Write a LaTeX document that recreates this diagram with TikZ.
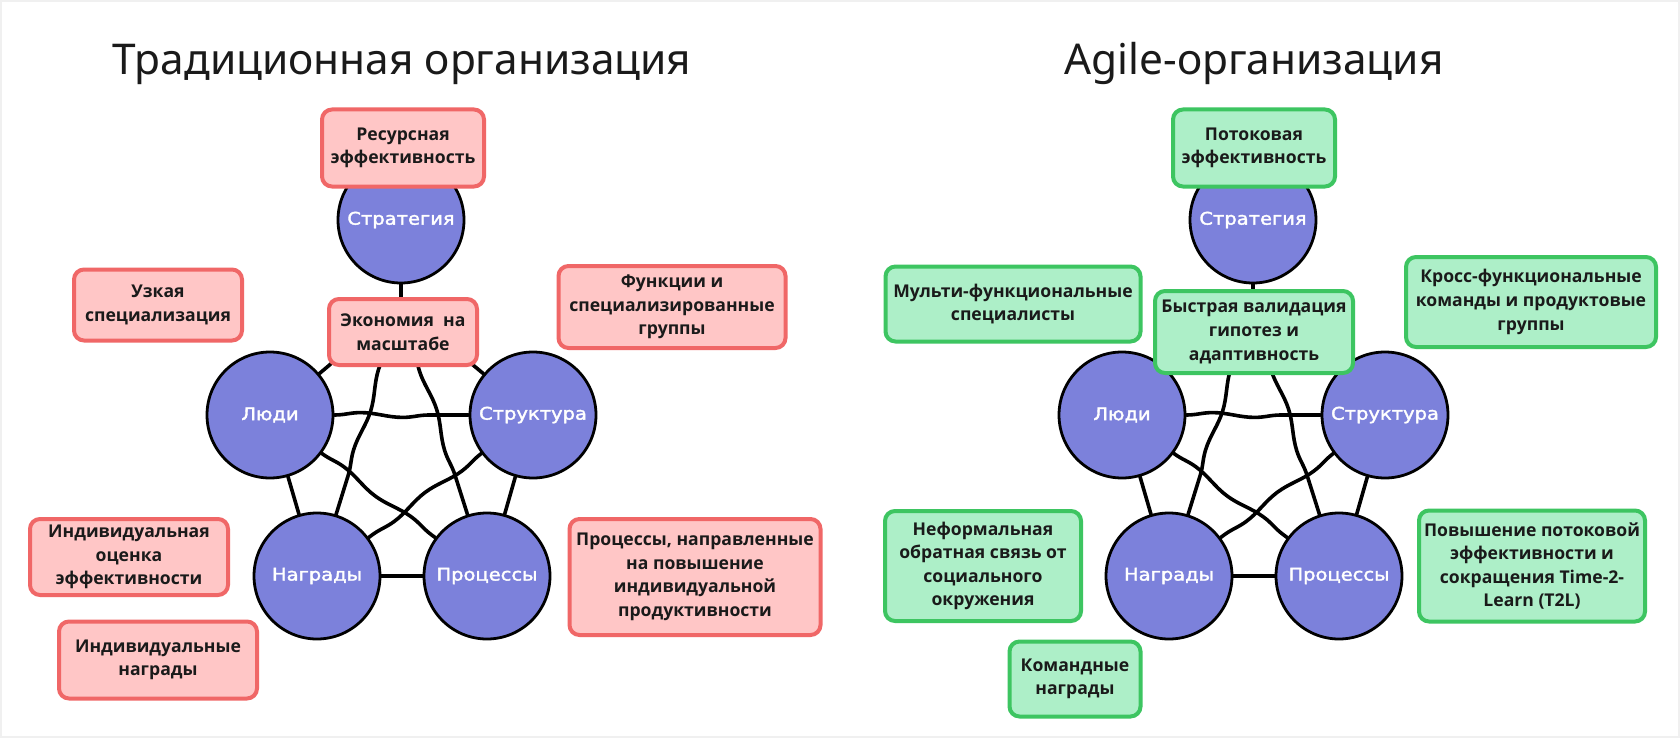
\documentclass[tikz,border=0pt]{standalone}
\usepackage{fontspec}
\setmainfont{Open Sans}
\newfontfamily\titlefont{Noto Sans}
\newfontfamily\circfont[FakeStretch=1.12, FakeBold=2]{DejaVu Sans}
\usetikzlibrary{decorations.pathmorphing}

\definecolor{redline}{HTML}{F06767}
\definecolor{redfill}{HTML}{FFC6C6}
\definecolor{greenline}{HTML}{3DC561}
\definecolor{greenfill}{HTML}{ADEFC8}
\definecolor{circfill}{HTML}{7C81DB}
\definecolor{textdark}{HTML}{1A1A1A}

\tikzset{
  circ/.style={circle, draw=black, line width=1.4pt, fill=circfill, minimum size=63pt,
    inner sep=0pt, text=white, font=\circfont\fontsize{8.7}{10}\selectfont},
  box/.style={rectangle, rounded corners=5pt, line width=2pt, inner sep=0pt, align=center,
    text=textdark, font=\bfseries\fontsize{8.8}{11.8}\selectfont},
  oldbox/.style={box, draw=redline, fill=redfill},
  newbox/.style={box, draw=greenline, fill=greenfill},
  link/.style={line width=1.8pt, line cap=round, decorate,
    decoration={snake, amplitude=1.2pt, segment length=42pt}},
  title/.style={anchor=base, text=textdark, font=\titlefont\fontsize{21.2}{26}\selectfont}
}

\begin{document}
\begin{tikzpicture}[x=0.5pt, y=-0.5pt]
    \useasboundingbox (0,0) rectangle (1680,738);
    \fill[white] (0,0) rectangle (1680,738);
    \draw[gray!12, line width=0.8pt] (1,1) rectangle (1679,737);

    \node[title] (ltitle) at (402,75) {Традиционная организация};
    \node[title] (rtitle) at (1254,75) {Agile-организация};

    % pentagons
    \foreach \s/\dx in {l/0, r/852} {
        \node[circ] (\s strat) at ({401+\dx},220) {Стратегия};
        \node[circ] (\s people) at ({270+\dx},415) {Люди};
        \node[circ] (\s struct) at ({533+\dx},415) {Структура};
        \node[circ] (\s reward) at ({317+\dx},576) {Награды};
        \node[circ] (\s proc) at ({487+\dx},576) {Процессы};
        \coordinate (\s hub) at ({401+\dx},305);
        \draw[line width=1.8pt] (\s strat.south) -- (\s hub);
        \foreach \a in {people, struct, reward, proc}
            \draw[link] (\s hub) -- (\s\a);
        \foreach \a/\b in {people/struct, people/reward, people/proc, struct/reward, struct/proc, reward/proc}
            \draw[link] (\s\a) -- (\s\b);
    }

    % traditional
    \node[oldbox, minimum width=81pt, minimum height=38.5pt] (res) at (403,148) {Ресурсная\\эффективность};
    \node[oldbox, minimum width=74pt, minimum height=33pt] (econ) at (403,332) {Экономия~ на\\масштабе};
    \node[oldbox, minimum width=84pt, minimum height=35.5pt] (narrow) at (158,305) {Узкая\\специализация};
    \node[oldbox, minimum width=113.5pt, minimum height=41pt] (func) at (672,307) {Функции и\\специализированные\\группы};
    \node[oldbox, minimum width=99pt, minimum height=38pt] (indeval) at (129,557) {Индивидуальная\\оценка\\эффективности};
    \node[oldbox, minimum width=99pt, minimum height=38.5pt] (indrew) at (158,660) {Индивидуальные\\награды};
    \node[oldbox, minimum width=125.5pt, minimum height=58pt] (procbox) at (695,577) {Процессы, направленные\\на повышение\\индивидуальной\\продуктивности};

    % agile
    \node[newbox, minimum width=81pt, minimum height=38.5pt] (flow) at (1254,148) {Потоковая\\эффективность};
    \node[newbox, minimum width=99pt, minimum height=41pt] (fast) at (1254,332) {Быстрая валидация\\гипотез и\\адаптивность};
    \node[newbox, minimum width=127.5pt, minimum height=37.5pt] (multi) at (1013,304) {Мульти-функциональные\\специалисты};
    \node[newbox, minimum width=125pt, minimum height=45pt] (cross) at (1531,302) {Кросс-функциональные\\команды и продуктовые\\группы};
    \node[newbox, minimum width=98pt, minimum height=55pt] (informal) at (983,566) {Неформальная\\обратная связь от\\социального\\окружения};
    \node[newbox, minimum width=65.5pt, minimum height=37.5pt] (team) at (1075,679) {Командные\\награды};
    \node[newbox, minimum width=113pt, minimum height=55.5pt] (raise) at (1532,566) {Повышение потоковой\\эффективности и\\сокращения Time-2-\\Learn (T2L)};
\end{tikzpicture}
\end{document}
